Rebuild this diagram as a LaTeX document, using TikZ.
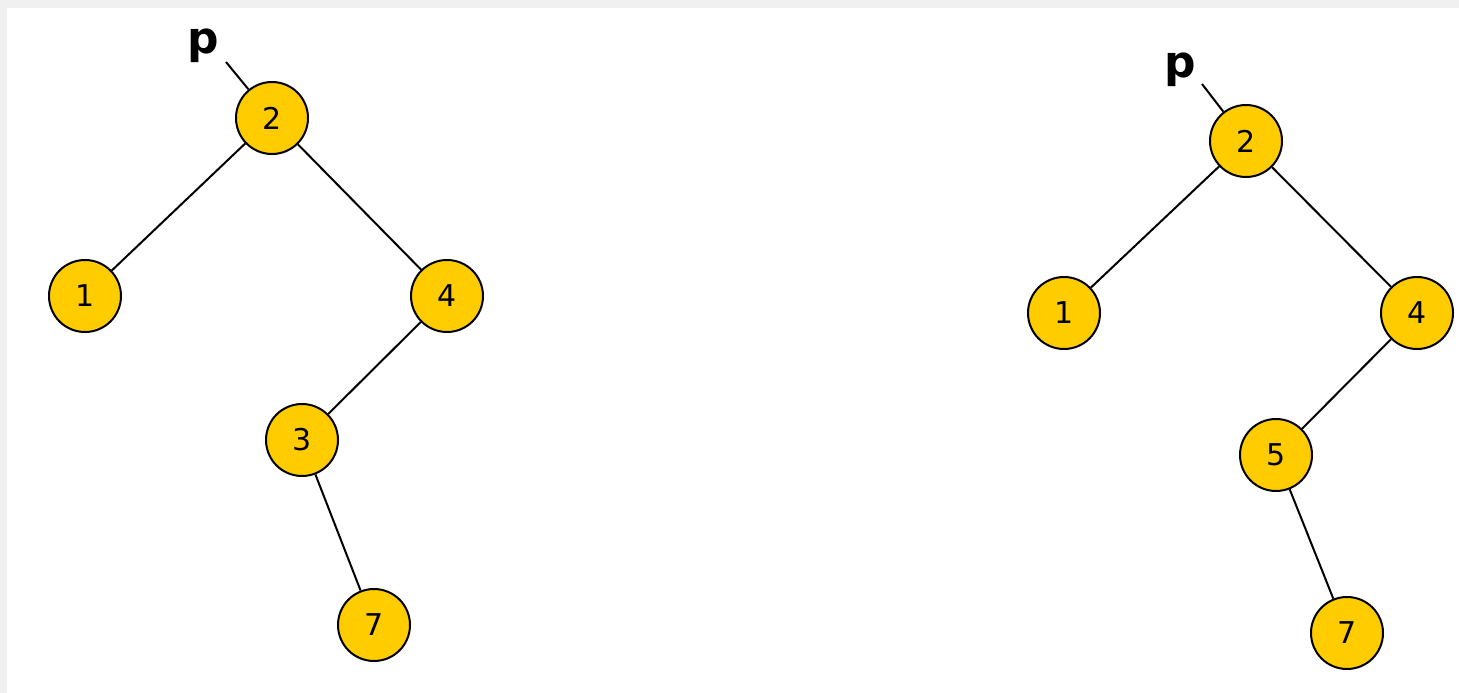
\documentclass[tikz,border=0pt]{standalone}
\usepackage{fontspec}
\setmainfont{DejaVu Sans}
\definecolor{frame}{HTML}{F0F0F0}
\definecolor{gold}{HTML}{FFCC00}
\tikzset{
  tn/.style={circle, draw=black, line width=2pt, fill=gold, minimum size=72pt, inner sep=0pt, font=\fontsize{30}{30}\selectfont},
  edge/.style={draw=black, line width=2pt},
  plabel/.style={font=\fontsize{44}{44}\selectfont\bfseries, inner sep=0pt}
}
\begin{document}
\begin{tikzpicture}[x=1pt,y=-1pt]
\useasboundingbox (0,0) rectangle (1459,693);
\fill[frame] (0,0) rectangle (1459,693);
\fill[white] (7,8) rectangle (1459,693);
% left tree
\node[tn] (a2) at (272,118) {2};
\node[tn] (a1) at (85,296) {1};
\node[tn] (a4) at (447,296) {4};
\node[tn] (a3) at (302,440) {3};
\node[tn] (a7) at (374,625) {7};
\node[plabel] (ap) at (203,46) {p};
\coordinate (apend) at (226,62);
\draw[edge] (apend) -- (a2);
\draw[edge] (a2) -- (a1);
\draw[edge] (a2) -- (a4);
\draw[edge] (a4) -- (a3);
\draw[edge] (a3) -- (a7);
% right tree
\node[tn] (b2) at (1246,141) {2};
\node[tn] (b1) at (1064,313) {1};
\node[tn] (b4) at (1417,313) {4};
\node[tn] (b5) at (1276,455) {5};
\node[tn] (b7) at (1347,633) {7};
\node[plabel] (bp) at (1180,70) {p};
\coordinate (bpend) at (1202,84);
\draw[edge] (bpend) -- (b2);
\draw[edge] (b2) -- (b1);
\draw[edge] (b2) -- (b4);
\draw[edge] (b4) -- (b5);
\draw[edge] (b5) -- (b7);
\end{tikzpicture}
\end{document}
